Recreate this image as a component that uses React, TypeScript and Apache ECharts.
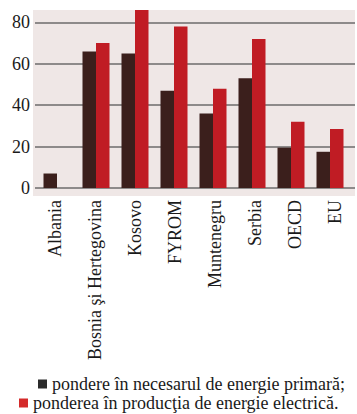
import React, { useEffect, useRef } from "react";
import * as echarts from "echarts";

const categories = [
  "Albania",
  "Bosnia şi Hertegovina",
  "Kosovo",
  "FYROM",
  "Muntenegru",
  "Serbia",
  "OECD",
  "EU",
];
const primaryShare = [7, 66, 65, 47, 36, 53, 19.5, 17.5];
const electricShare = [0, 70, 88, 78, 48, 72, 32, 28.5];
const seriesNames = [
  "pondere în necesarul de energie primară;",
  "ponderea în producţia de energie electrică.",
];
const yTicks = [0, 20, 40, 60, 80];

const FONT = "Times New Roman";
const DARK = "#3b1f1c";
const RED = "#c01c24";

export default function App() {
  const ref = useRef<HTMLDivElement>(null);

  useEffect(() => {
    document.body.style.margin = "0";
    if (!ref.current) return;
    const chart = echarts.init(ref.current, undefined, { renderer: "svg" });
    const yMax = 86;
    const legendText = { fontFamily: FONT, fontSize: 18, color: "#1a1a1a" };
    chart.setOption({
      animation: false,
      backgroundColor: "#ffffff",
      graphic: [
        {
          type: "rect",
          z: -10,
          shape: { x: 33, y: 10, width: 322, height: 186 },
          style: { fill: "#efe7e6" },
        },
      ],
      grid: [
        // frame grid: gridlines, tick labels, category labels
        { left: 35, top: 10, width: 320, height: 178 },
        // bar grid
        { left: 37.5, top: 10, width: 312, height: 178 },
      ],
      xAxis: [
        {
          type: "category",
          gridIndex: 0,
          data: categories,
          axisLine: { show: false },
          axisTick: { show: false },
          axisLabel: {
            rotate: 90,
            margin: 12,
            fontFamily: FONT,
            fontSize: 18,
            color: "#1a1a1a",
            interval: 0,
          },
        },
        {
          type: "category",
          gridIndex: 1,
          data: categories,
          show: false,
        },
      ],
      yAxis: [
        {
          type: "value",
          gridIndex: 0,
          min: 0,
          max: yMax,
          interval: 20,
          axisLine: { show: false },
          axisTick: { show: false },
          axisLabel: {
            showMaxLabel: false,
            margin: 5,
            fontFamily: FONT,
            fontSize: 18,
            color: "#1a1a1a",
            formatter: (v: number) => (yTicks.includes(v) ? String(v) : ""),
          },
          splitLine: {
            show: true,
            showMinLine: true,
            showMaxLine: false,
            lineStyle: { color: "#6c6b6b", width: 1.5 },
          },
        },
        {
          type: "value",
          gridIndex: 1,
          min: 0,
          max: yMax,
          show: false,
          splitLine: { show: false },
        },
      ],
      legend: [
        {
          data: [{ name: seriesNames[0], itemStyle: { color: "#2b2b2b" } }],
          left: 33,
          top: 370,
          itemWidth: 9,
          itemHeight: 9,
          icon: "rect",
          textStyle: legendText,
        },
        {
          data: [{ name: seriesNames[1], itemStyle: { color: "#d42a2a" } }],
          left: 14,
          top: 389,
          itemWidth: 9,
          itemHeight: 9,
          icon: "rect",
          textStyle: legendText,
        },
      ],
      series: [
        {
          name: seriesNames[0],
          type: "bar",
          xAxisIndex: 1,
          yAxisIndex: 1,
          data: primaryShare,
          barWidth: 13.5,
          barGap: "0%",
          itemStyle: { color: DARK },
          clip: true,
        },
        {
          name: seriesNames[1],
          type: "bar",
          xAxisIndex: 1,
          yAxisIndex: 1,
          data: electricShare,
          barWidth: 13.5,
          barGap: "0%",
          itemStyle: { color: RED },
          clip: true,
        },
      ],
    });
    return () => chart.dispose();
  }, []);

  return <div ref={ref} style={{ width: 357, height: 414 }} />;
}
